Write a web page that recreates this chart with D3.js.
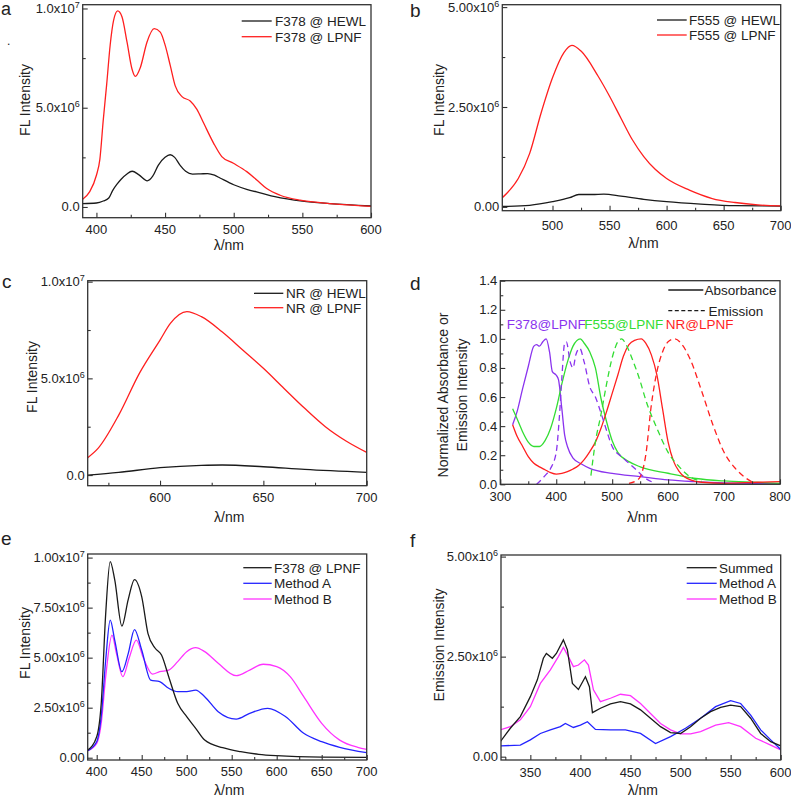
<!DOCTYPE html>
<html><head><meta charset="utf-8">
<script src="https://cdn.jsdelivr.net/npm/d3@7"></script>
<style>
body{margin:0;background:#fff}
text{font-family:Arial,"Liberation Sans",sans-serif;fill:#222}
</style>
</head><body>
<svg id="c" width="791" height="799"></svg>
<script>
// ---------------- DATA ----------------
// Panel a (values in 1e6)
const aRedWl  = [390,395,400,402.5,405,407.5,410,412.5,415.5,418.6,422.3,425.9,428.3,432,436.8,442.1,446.5,450.1,453.8,457.4,462.3,468.3,473.2,478,485.3,491.3,499.8,509.5,516.8,524,533.8,548.3,562.9,579.9,600];
const aRedVal = [0.39,0.76,1.6,2.4,4.4,6.2,8.15,9.4,9.88,9.58,8.3,6.95,6.58,7.03,8.3,8.98,8.81,8.14,7.12,6.1,5.56,5.34,4.92,4.24,3.22,2.54,2.2,1.78,1.36,0.93,0.59,0.34,0.22,0.12,0.03];
const aBlkWl  = [390,400,405,409,412,415,418,422,426,431,437,441,445,450,453.7,457,461,465,470,476,481,486,490,500,510,520,530,550,570,600];
const aBlkVal = [0.17,0.2,0.3,0.45,0.85,1.15,1.4,1.65,1.8,1.62,1.32,1.55,2.1,2.5,2.63,2.5,2.1,1.8,1.66,1.67,1.68,1.6,1.46,1.12,0.88,0.7,0.52,0.29,0.17,0.05];
const aXTicks = [400,450,500,550,600];
const aXMinor = [425,475,525,575];
const aYTicks = [0,5,10];
const aYMinor = [2.5,7.5];
const aYLabels = ["0.0","5.0x10^6","1.0x10^7"];
const aLegend = ["F378 @ HEWL","F378 @ LPNF"];

// Panel b
const bRedWl  = [456,460,470,480,490,500,510,517,525,540,550,560,570,580,590,600,620,640,660,680,700];
const bRedVal = [0.23,0.34,0.71,1.34,2.35,3.23,3.86,4.04,3.9,3.27,2.77,2.22,1.68,1.26,0.94,0.71,0.42,0.21,0.11,0.05,0.025];
const bBlkWl  = [456,480,500,515,523,535,545,560,580,600,630,660,700];
const bBlkVal = [0.01,0.04,0.13,0.23,0.31,0.31,0.32,0.27,0.19,0.13,0.07,0.03,0.02];
const bXTicks = [500,550,600,650,700];
const bXMinor = [475,525,575,625,675];
const bYTicks = [0,2.5,5];
const bYMinor = [1.25,3.75];
const bYLabels = ["0.00","2.50x10^6","5.00x10^6"];
const bLegend = ["F555 @ HEWL","F555 @ LPNF"];

// Panel c
const cRedWl  = [565,570,580,590,600,605,613,620,630,640,650,660,670,680,690,700];
const cRedVal = [0.9,1.38,3.1,5.26,6.98,7.84,8.45,8.19,7.41,6.47,5.52,4.48,3.45,2.5,1.76,1.17];
const cBlkWl  = [565,580,600,620,630,650,670,700];
const cBlkVal = [0.0,0.14,0.38,0.5,0.52,0.43,0.29,0.14];
const cXTicks = [600,650,700];
const cXMinor = [575,625,675];
const cYTicks = [0,5,10];
const cYMinor = [2.5,7.5];
const cYLabels = ["0.0","5.0x10^6","1.0x10^7"];
const cLegend = ["NR @ HEWL","NR @ LPNF"];

// Panel d (normalized)
const dF378AbsWl  = [322,330,340,350,360,365,370,376,382,388,393,400,404,410,415,420,430,445,460,500,550,600,650,700,800];
const dF378AbsVal = [0.41,0.5,0.66,0.81,0.95,0.96,0.95,0.98,1.0,0.91,0.775,0.75,0.72,0.52,0.34,0.26,0.18,0.14,0.11,0.075,0.053,0.03,0.018,0.01,0.005];
const dF378EmWl   = [365,380,390,400,405,410,415,418,425,430,435,442,450,460,470,480,490,500,520,540,560,575];
const dF378EmVal  = [0.0,0.06,0.11,0.22,0.43,0.73,0.97,0.98,0.84,0.8,0.89,0.935,0.84,0.67,0.6,0.49,0.37,0.26,0.18,0.11,0.04,0.01];
const dF555AbsWl  = [322,330,340,350,360,370,380,390,400,410,420,430,443,450,460,470,480,490,500,510,530,550,600,650,700,750,800];
const dF555AbsVal = [0.52,0.45,0.36,0.29,0.26,0.26,0.3,0.385,0.52,0.69,0.84,0.95,1.0,0.97,0.91,0.8,0.59,0.43,0.3,0.22,0.156,0.12,0.076,0.04,0.023,0.014,0.007];
const dF555EmWl   = [462,470,480,490,500,510,517,525,535,550,560,580,600,620,640,660];
const dF555EmVal  = [0.06,0.29,0.48,0.69,0.87,0.98,1.0,0.96,0.87,0.71,0.58,0.385,0.22,0.12,0.05,0.02];
const dNRAbsWl    = [322,330,340,350,360,370,380,390,400,410,420,430,440,450,460,470,480,490,500,510,520,530,540,552,560,570,580,590,600,610,620,640,660,700,760,800];
const dNRAbsVal   = [0.41,0.33,0.26,0.19,0.145,0.12,0.1,0.08,0.07,0.075,0.087,0.105,0.13,0.17,0.225,0.29,0.385,0.5,0.625,0.75,0.88,0.96,0.99,1.0,0.97,0.89,0.75,0.52,0.29,0.156,0.087,0.03,0.014,0.007,0.014,0.018];
const dNREmWl     = [530,545,550,560,570,580,590,600,612,625,640,660,680,700,720,740,755];
const dNREmVal    = [0.007,0.03,0.05,0.2,0.545,0.775,0.91,0.98,1.0,0.96,0.855,0.64,0.41,0.22,0.11,0.04,0.007];
const dXTicks = [300,400,500,600,700,800];
const dXMinor = [350,450,550,650,750];
const dYTicks = [0,0.2,0.4,0.6,0.8,1.0,1.2,1.4];
const dYMinor = [0.1,0.3,0.5,0.7,0.9,1.1,1.3];
const dYLabels = ["0.0","0.2","0.4","0.6","0.8","1.0","1.2","1.4"];
const dLegend = ["Absorbance","Emission"];
const dLabels = ["F378@LPNF","F555@LPNF","NR@LPNF"];

// Panel e
const eBlkWl  = [390,400,405,410,415,420,428,435,442,450,457,465,472,480,490,500,510,520,540,560,580,600,650,700];
const eBlkVal = [0.38,1.05,2.7,7.2,9.8,8.9,6.58,7.9,8.9,8.05,6.2,5.47,5.13,4.05,2.72,2.05,1.47,0.88,0.5,0.3,0.17,0.1,0.03,0.02];
const eAWl    = [390,400,405,410,415,420,428,435,442,450,460,470,480,490,500,510,520,535,555,570,590,610,630,650,670,700];
const eAVal   = [0.35,0.8,2.05,4.88,6.88,5.88,4.3,5.2,6.4,5.38,3.88,3.8,3.47,3.3,3.3,3.38,3.05,2.3,1.93,2.22,2.47,2.05,1.22,0.8,0.52,0.25];
const eBWl    = [390,400,405,410,417,422,429,436,444,452,462,470,480,490,500,510,520,535,555,570,585,600,615,630,650,670,690,700];
const eBVal   = [0.35,0.72,1.72,4.05,6.13,5.2,4.05,4.97,5.88,4.97,4.18,4.3,4.38,4.8,5.3,5.5,5.3,4.72,4.1,4.38,4.67,4.55,4.05,3.05,1.72,0.88,0.52,0.42];
const eXTicks = [400,450,500,550,600,650,700];
const eXMinor = [425,475,525,575,625,675];
const eYTicks = [0,2.5,5,7.5,10];
const eYMinor = [1.25,3.75,6.25,8.75];
const eYLabels = ["0.00","2.50x10^6","5.00x10^6","7.50x10^6","1.00x10^7"];
const eLegend = ["F378 @ LPNF","Method A","Method B"];

// Panel f
const fSumWl  = [320,330,340,350,357,363,366,372,376,383,387,392,398,405,409,412,420,430,440,450,460,470,480,490,500,510,520,530,540,550,560,570,580,590,600];
const fSumVal = [0.375,0.71,1.0,1.5,1.92,2.46,2.58,2.46,2.58,2.92,2.67,1.83,1.68,2.0,1.75,1.1,1.21,1.32,1.375,1.32,1.17,0.96,0.75,0.6,0.58,0.75,0.96,1.125,1.23,1.29,1.25,0.96,0.58,0.375,0.27];
const fAWl    = [320,340,350,360,370,380,385,393,400,407,415,430,445,460,475,490,505,520,535,550,560,570,580,590,600];
const fAVal   = [0.27,0.29,0.42,0.58,0.67,0.75,0.83,0.73,0.79,0.875,0.68,0.67,0.67,0.58,0.33,0.5,0.71,0.96,1.25,1.4,1.33,1.04,0.67,0.42,0.18];
const fBWl    = [320,330,340,350,360,370,378,383,388,393,398,404,408,413,420,430,440,450,460,470,480,490,500,510,520,535,548,560,575,590,600];
const fBVal   = [0.67,0.75,0.92,1.25,1.83,2.17,2.5,2.73,2.5,2.25,2.29,2.42,2.29,1.67,1.375,1.46,1.56,1.525,1.33,1.08,0.83,0.67,0.57,0.57,0.625,0.79,0.85,0.75,0.46,0.29,0.17];
const fXTicks = [350,400,450,500,550,600];
const fXMinor = [325,375,425,475,525,575];
const fYTicks = [0,2.5,5];
const fYMinor = [1.25,3.75];
const fYLabels = ["0.00","2.50x10^6","5.00x10^6"];
const fLegend = ["Summed","Method A","Method B"];

// ---------------- STYLE ----------------
const BLK = "#1a1a1a", RED = "#ff1f1f", BLUE = "#2323ff", MAG = "#ff33ff", PUR = "#8a33ee", GRN = "#33dd33";

const svg = d3.select("#c");
let clipN = 0;

function drawPanel(p) {
  const x = d3.scaleLinear().domain(p.xDomain).range([p.L, p.R]);
  const y = d3.scaleLinear().domain(p.yDomain).range([p.B, p.T]);
  const g = svg.append("g");
  const cid = "clip" + (clipN++);
  g.append("clipPath").attr("id", cid).append("rect")
    .attr("x", p.L).attr("y", p.T).attr("width", p.R - p.L).attr("height", p.B - p.T);

  const line = d3.line().x(d => x(d[0])).y(d => y(d[1])).curve(p.curve || d3.curveMonotoneX);
  p.series.forEach(s => {
    g.append("path").datum(d3.zip(s.wl, s.val))
      .attr("d", line).attr("fill", "none")
      .attr("stroke", s.color).attr("stroke-width", 1.3)
      .attr("stroke-dasharray", s.dash || null)
      .attr("clip-path", `url(#${cid})`);
  });

  // ticks (inside)
  const axStyle = sel => { sel.select(".domain").remove(); sel.selectAll("line").attr("stroke", "#333").attr("stroke-width", 1.1); sel.selectAll("text").remove(); };
  g.append("g").attr("transform", `translate(0,${p.B})`)
    .call(d3.axisBottom(x).tickValues(p.xTicks).tickSize(-5)).call(axStyle);
  g.append("g").attr("transform", `translate(0,${p.B})`)
    .call(d3.axisBottom(x).tickValues(p.xMinor).tickSize(-3)).call(axStyle);
  g.append("g").attr("transform", `translate(${p.L},0)`)
    .call(d3.axisLeft(y).tickValues(p.yTicks).tickSize(-5)).call(axStyle);
  g.append("g").attr("transform", `translate(${p.L},0)`)
    .call(d3.axisLeft(y).tickValues(p.yMinor).tickSize(-3)).call(axStyle);

  // frame
  g.append("rect").attr("x", p.L).attr("y", p.T).attr("width", p.R - p.L).attr("height", p.B - p.T)
    .attr("fill", "none").attr("stroke", "#333").attr("stroke-width", 1.3);

  // x tick labels
  g.selectAll(".xl").data(p.xTicks).enter().append("text")
    .attr("x", d => x(d)).attr("y", p.B + p.xLabOff)
    .attr("text-anchor", "middle").attr("font-size", 13).text(d => d);

  // y tick labels with superscripts
  p.yTicks.forEach((v, i) => {
    const parts = p.yLabels[i].split("^");
    const t = g.append("text").attr("x", p.L - 3).attr("y", y(v) + 4.5)
      .attr("text-anchor", "end").attr("font-size", 13);
    t.append("tspan").text(parts[0]);
    if (parts[1]) t.append("tspan").attr("font-size", 9).attr("dy", -5).text(parts[1]);
  });

  // axis titles
  g.append("text").attr("x", (p.L + p.R) / 2 + 2).attr("y", p.xTitleY)
    .attr("text-anchor", "middle").attr("font-size", 14).text("λ/nm");
  p.yTitle.forEach((tt, i) => {
    g.append("text").attr("transform", `translate(${p.yTitleX[i]},${p.yTitleC}) rotate(-90)`)
      .attr("text-anchor", "middle").attr("font-size", 14).text(tt);
  });

  // panel letter
  g.append("text").attr("x", p.letter[1]).attr("y", p.letter[2])
    .attr("font-size", p.letter[3] || 19).text(p.letter[0]);

  // legend
  if (p.legend) {
    p.legend.names.forEach((n, i) => {
      const ly = p.legend.y[i];
      g.append("line").attr("x1", p.legend.x1).attr("x2", p.legend.x2[i] || p.legend.x2[0])
        .attr("y1", ly).attr("y2", ly)
        .attr("stroke", p.legend.colors[i]).attr("stroke-width", 1.3)
        .attr("stroke-dasharray", p.legend.dash ? p.legend.dash[i] : null);
      g.append("text").attr("x", p.legend.tx[i] || p.legend.tx[0]).attr("y", ly + 4.8)
        .attr("font-size", 13.5).text(n);
    });
  }
  return {x, y, g};
}

// Panel a
drawPanel({
  L: 82.7, R: 371, T: 4.7, B: 217.7, xDomain: [390, 600], yDomain: [-0.54, 10.19],
  series: [
    {wl: aBlkWl, val: aBlkVal, color: BLK},
    {wl: aRedWl, val: aRedVal, color: RED}
  ],
  xTicks: aXTicks, xMinor: aXMinor, yTicks: aYTicks, yMinor: aYMinor, yLabels: aYLabels,
  xLabOff: 16.5, xTitleY: 250, yTitle: ["FL Intensity"], yTitleX: [30], yTitleC: 100,
  letter: ["a", 1, 15, 18],
  legend: {names: aLegend, colors: [BLK, RED], x1: 241.7, x2: [271.7], tx: [275], y: [21, 36.7]}
});
svg.append("text").attr("x", 7).attr("y", 45).attr("font-size", 12).text(".");

// Panel b
drawPanel({
  L: 502.3, R: 780.7, T: 4.7, B: 210.7, xDomain: [456, 700], yDomain: [-0.095, 5.06],
  series: [
    {wl: bBlkWl, val: bBlkVal, color: BLK},
    {wl: bRedWl, val: bRedVal, color: RED}
  ],
  xTicks: bXTicks, xMinor: bXMinor, yTicks: bYTicks, yMinor: bYMinor, yLabels: bYLabels,
  xLabOff: 19, xTitleY: 248, yTitle: ["FL Intensity"], yTitleX: [444], yTitleC: 100,
  letter: ["b", 410, 17],
  legend: {names: bLegend, colors: [BLK, RED], x1: 657, x2: [686.7], tx: [689], y: [20, 35]}
});

// Panel c
drawPanel({
  L: 87.7, R: 366.7, T: 280.7, B: 485.7, xDomain: [565, 700], yDomain: [-0.55, 10.05],
  series: [
    {wl: cBlkWl, val: cBlkVal, color: BLK},
    {wl: cRedWl, val: cRedVal, color: RED}
  ],
  xTicks: cXTicks, xMinor: cXMinor, yTicks: cYTicks, yMinor: cYMinor, yLabels: cYLabels,
  xLabOff: 16, xTitleY: 522, yTitle: ["FL Intensity"], yTitleX: [37], yTitleC: 377,
  letter: ["c", 2, 288],
  legend: {names: cLegend, colors: [BLK, RED], x1: 254, x2: [283.3], tx: [286], y: [293.3, 307.7]}
});

// Panel d
const pd = drawPanel({
  L: 500.3, R: 780, T: 280.7, B: 484.3, xDomain: [300, 800], yDomain: [0, 1.4],
  curve: d3.curveMonotoneX,
  series: [
    {wl: dF378AbsWl, val: dF378AbsVal, color: PUR},
    {wl: dF555AbsWl, val: dF555AbsVal, color: GRN},
    {wl: dNRAbsWl, val: dNRAbsVal, color: RED},
    {wl: dF378EmWl, val: dF378EmVal, color: PUR, dash: "6,4"},
    {wl: dF555EmWl, val: dF555EmVal, color: GRN, dash: "6,4"},
    {wl: dNREmWl, val: dNREmVal, color: RED, dash: "6,4"}
  ],
  xTicks: dXTicks, xMinor: dXMinor, yTicks: dYTicks, yMinor: dYMinor, yLabels: dYLabels,
  xLabOff: 17, xTitleY: 522, yTitle: ["Normalized Absorbance or", "Emission Intensity"],
  yTitleX: [448, 466.5], yTitleC: 395,
  letter: ["d", 410, 290],
  legend: {names: dLegend, colors: [BLK, BLK], dash: [null, "4,2.5"], x1: 668.3, x2: [703.3, 706.7], tx: [704.5, 708.5], y: [290, 310.7]}
});
const dLabX = [506.7, 584.3, 665.7];
const dLabC = [PUR, GRN, RED];
dLabels.forEach((t, i) => {
  pd.g.append("text").attr("x", dLabX[i]).attr("y", 329).attr("font-size", 13.5)
    .style("fill", dLabC[i]).text(t);
});

// Panel e
drawPanel({
  L: 87.7, R: 366.7, T: 554, B: 760, xDomain: [390, 700], yDomain: [-0.114, 10.18],
  series: [
    {wl: eBWl, val: eBVal, color: MAG},
    {wl: eAWl, val: eAVal, color: BLUE},
    {wl: eBlkWl, val: eBlkVal, color: BLK}
  ],
  xTicks: eXTicks, xMinor: eXMinor, yTicks: eYTicks, yMinor: eYMinor, yLabels: eYLabels,
  xLabOff: 15.5, xTitleY: 795, yTitle: ["FL Intensity"], yTitleX: [30], yTitleC: 643,
  letter: ["e", 1, 545],
  legend: {names: eLegend, colors: [BLK, BLUE, MAG], x1: 243.3, x2: [271.7], tx: [274], y: [567.7, 583.3, 599]}
});

// Panel f
drawPanel({
  L: 501, R: 780.7, T: 555, B: 760, xDomain: [320.7, 600], yDomain: [-0.083, 5.04],
  curve: d3.curveLinear,
  series: [
    {wl: fBWl, val: fBVal, color: MAG},
    {wl: fAWl, val: fAVal, color: BLUE},
    {wl: fSumWl, val: fSumVal, color: BLK}
  ],
  xTicks: fXTicks, xMinor: fXMinor, yTicks: fYTicks, yMinor: fYMinor, yLabels: fYLabels,
  xLabOff: 16.5, xTitleY: 795, yTitle: ["Emission Intensity"], yTitleX: [444], yTitleC: 645,
  letter: ["f", 410, 547],
  legend: {names: fLegend, colors: [BLK, BLUE, MAG], x1: 686.7, x2: [716.7], tx: [719], y: [567.7, 583.3, 599]}
});
</script>
</body></html>
